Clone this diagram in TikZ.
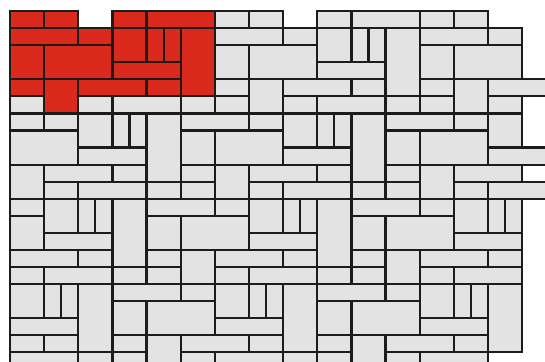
\documentclass[tikz,border=0pt]{standalone}
\usepackage{tikz}
\definecolor{paverred}{HTML}{DA2A1E}
\definecolor{pavergrey}{HTML}{E3E3E3}
\definecolor{joint}{HTML}{1C1C1C}
\tikzset{
  % stenar
  stone/.style={draw=joint,fill=pavergrey,line width=1.8pt},
  redstone/.style={stone,fill=paverred},
}
\begin{document}
\begin{tikzpicture}[x=0.5cm,y=-0.5cm]
\useasboundingbox (-0.586,-0.644) rectangle (31.34,20.56);
\clip (-0.586,-0.644) rectangle (31.34,20.56);
% one motif, repeated with steps (12,0) and (-2,5)
\foreach \b in {0,...,4}{
  \foreach \a in {-1,...,2}{
    \pgfmathtruncatemacro{\ox}{12*\a-2*\b}
    \pgfmathtruncatemacro{\oy}{5*\b}
    \pgfmathtruncatemacro{\isred}{(\a==0)*(\b==0)}
    \foreach \ia/\ja/\ib/\jb in {0/0/2/1,2/0/4/1,6/0/8/1,8/0/12/1,
        0/1/4/2,4/1/6/2,6/1/8/3,8/1/9/3,9/1/10/3,10/1/12/5,
        0/2/2/4,2/2/6/4,6/3/10/4,
        0/4/2/5,2/4/4/6,4/4/8/5,8/4/10/5}{
      \pgfmathtruncatemacro{\xa}{\ia+\ox}
      \pgfmathtruncatemacro{\xb}{\ib+\ox}
      \pgfmathtruncatemacro{\xc}{max(\xa,0)}
      \ifnum\xa<30 \ifnum\xb>0
        \ifnum\isred=1
          \draw[redstone] (\xc,\ja+\oy) rectangle (\xb,\jb+\oy);
        \else
          \draw[stone] (\xc,\ja+\oy) rectangle (\xb,\jb+\oy);
        \fi
      \fi\fi
    }
  }
}
\end{tikzpicture}
\end{document}
